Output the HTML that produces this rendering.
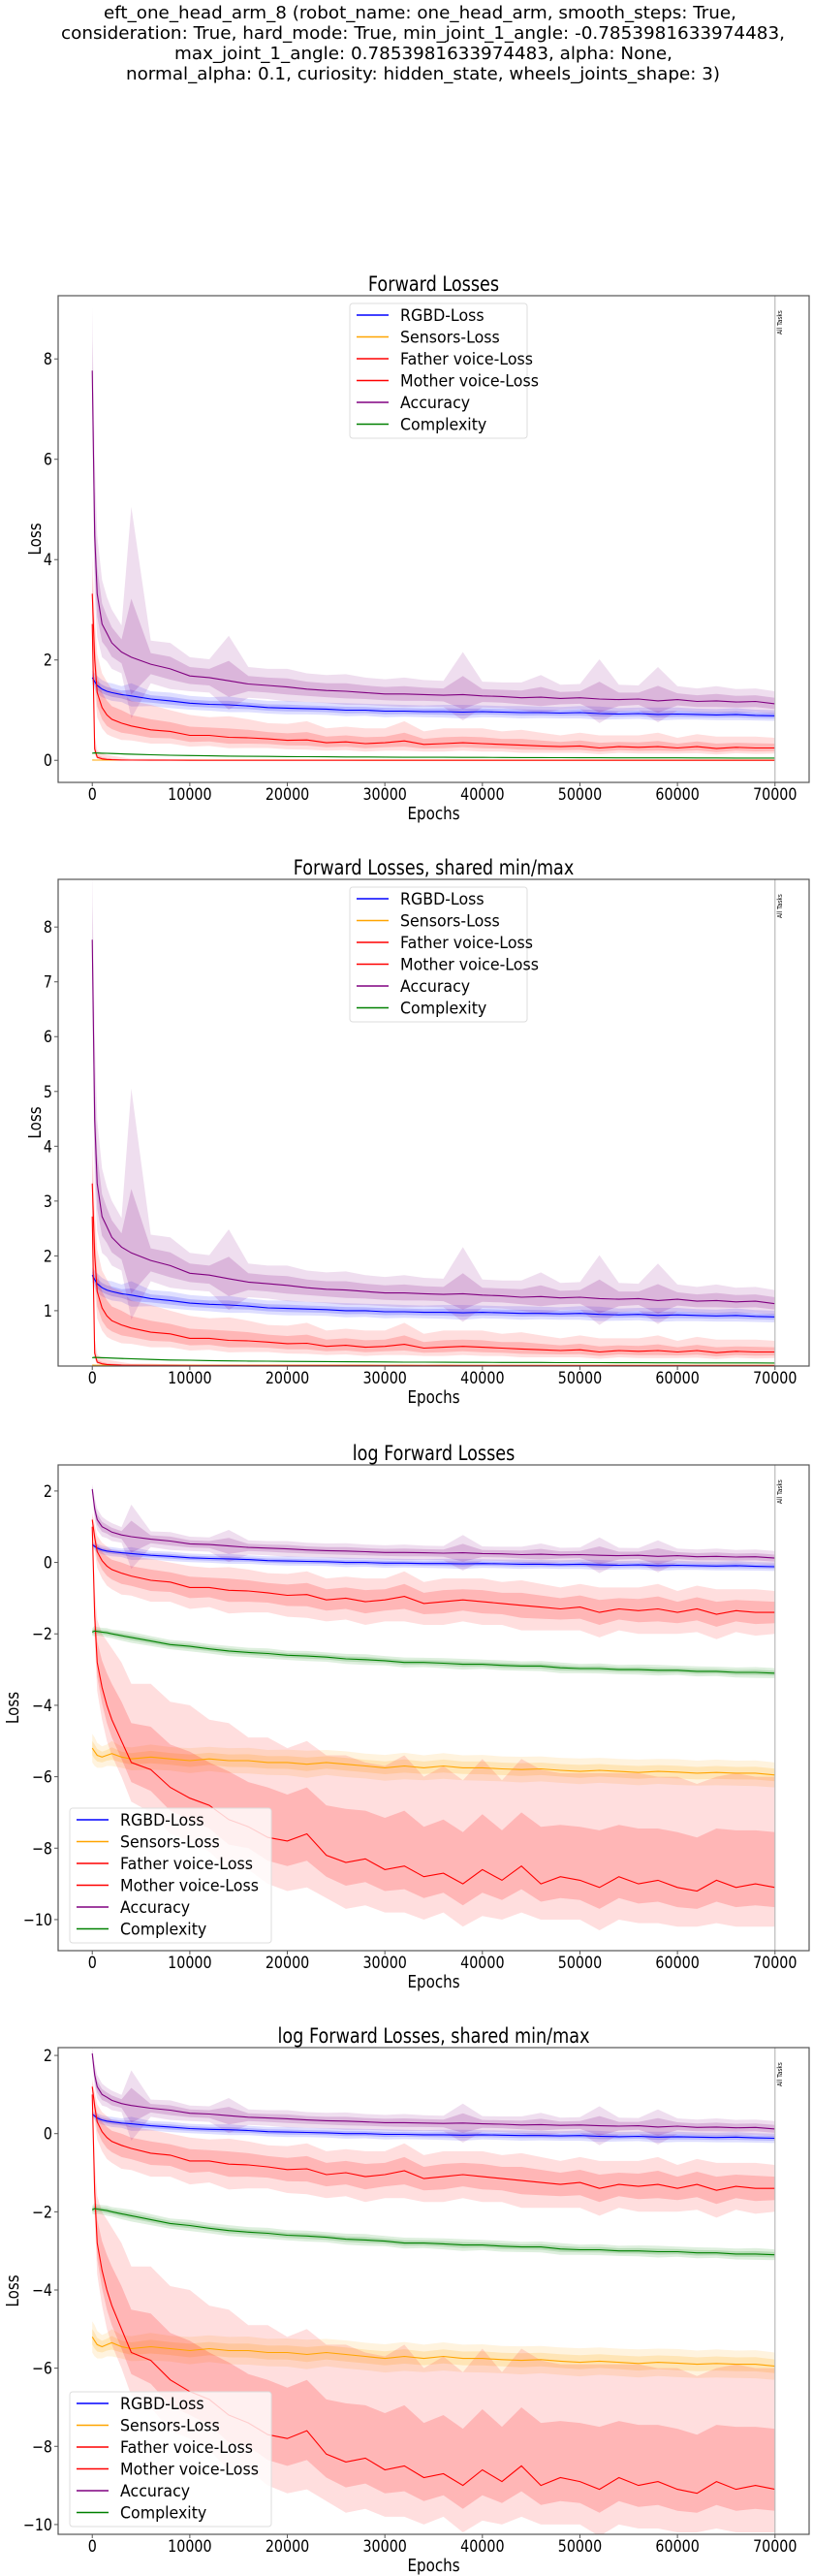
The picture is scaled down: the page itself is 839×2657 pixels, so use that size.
<!DOCTYPE html>
<html><head><meta charset="utf-8">
<style>
html,body{margin:0;padding:0;background:#fff;}
svg{display:block;font-family:"DejaVu Sans","Liberation Sans",sans-serif;}
</style></head>
<body>
<svg id="fig" xmlns="http://www.w3.org/2000/svg" width="839" height="2657" viewBox="0 0 839 2657">
<rect x="0" y="0" width="839" height="2657" fill="#fff"/>
<g font-size="18" fill="#000" text-anchor="start">
<text x="107" y="19" textLength="653" lengthAdjust="spacingAndGlyphs">eft_one_head_arm_8 (robot_name: one_head_arm, smooth_steps: True,</text>
<text x="63" y="40" textLength="747" lengthAdjust="spacingAndGlyphs">consideration: True, hard_mode: True, min_joint_1_angle: -0.7853981633974483,</text>
<text x="180" y="61" textLength="514" lengthAdjust="spacingAndGlyphs">max_joint_1_angle: 0.7853981633974483, alpha: None,</text>
<text x="130" y="82" textLength="613" lengthAdjust="spacingAndGlyphs">normal_alpha: 0.1, curiosity: hidden_state, wheels_joints_shape: 3)</text>
</g>
</svg>
<script>
const epochs=[0,250,500,1000,1500,2000,3000,4000,6000,8000,10000,12000,14000,16000,18000,20000,22000,24000,26000,28000,30000,32000,34000,36000,38000,40000,42000,44000,46000,48000,50000,52000,54000,56000,58000,60000,62000,64000,66000,68000,70000];
const rgbdLog=[0.5,0.45,0.4,0.35,0.32,0.3,0.27,0.25,0.2,0.17,0.13,0.11,0.1,0.08,0.05,0.04,0.03,0.02,0.0,0.0,-0.02,-0.02,-0.03,-0.03,-0.04,-0.03,-0.04,-0.05,-0.05,-0.06,-0.05,-0.07,-0.08,-0.07,-0.09,-0.08,-0.09,-0.1,-0.09,-0.11,-0.12];
const sensorsLog=[-5.2,-5.3,-5.4,-5.45,-5.4,-5.35,-5.45,-5.5,-5.45,-5.5,-5.55,-5.5,-5.55,-5.55,-5.6,-5.6,-5.65,-5.6,-5.65,-5.7,-5.75,-5.7,-5.75,-5.7,-5.75,-5.75,-5.78,-5.8,-5.78,-5.82,-5.85,-5.82,-5.85,-5.88,-5.85,-5.87,-5.9,-5.88,-5.9,-5.9,-5.95];
const fatherLog=[1.2,0.7,0.3,0.05,-0.1,-0.2,-0.3,-0.38,-0.5,-0.55,-0.7,-0.7,-0.78,-0.8,-0.85,-0.92,-0.9,-1.05,-1.0,-1.1,-1.05,-0.95,-1.15,-1.1,-1.05,-1.1,-1.15,-1.2,-1.25,-1.3,-1.25,-1.4,-1.3,-1.35,-1.3,-1.4,-1.3,-1.45,-1.35,-1.4,-1.4];
const motherLog=[1.0,-1.5,-2.8,-3.5,-4.0,-4.4,-5.0,-5.6,-5.8,-6.3,-6.6,-6.8,-7.2,-7.4,-7.7,-7.8,-7.6,-8.2,-8.4,-8.3,-8.6,-8.5,-8.8,-8.7,-9.0,-8.6,-8.9,-8.5,-9.0,-8.8,-8.9,-9.1,-8.8,-9.0,-8.9,-9.1,-9.2,-8.9,-9.1,-9.0,-9.1];
const accuracyLog=[2.05,1.5,1.2,1.0,0.93,0.85,0.77,0.72,0.65,0.6,0.52,0.5,0.46,0.42,0.4,0.38,0.35,0.33,0.32,0.3,0.28,0.28,0.27,0.26,0.27,0.25,0.24,0.22,0.23,0.21,0.22,0.2,0.19,0.2,0.17,0.19,0.16,0.17,0.15,0.16,0.12];
const complexityLog=[-1.95,-1.92,-1.93,-1.95,-1.97,-2.0,-2.05,-2.1,-2.2,-2.3,-2.35,-2.42,-2.48,-2.52,-2.55,-2.6,-2.62,-2.65,-2.7,-2.72,-2.75,-2.8,-2.8,-2.82,-2.85,-2.85,-2.88,-2.9,-2.9,-2.95,-2.97,-2.97,-3.0,-3.0,-3.02,-3.02,-3.05,-3.05,-3.08,-3.08,-3.1];
const rgbdBand=[0.08,0.1,0.12,0.12,0.12,0.13,0.12,0.18,0.12,0.13,0.12,0.12,0.14,0.12,0.12,0.13,0.12,0.12,0.13,0.12,0.13,0.12,0.12,0.13,0.14,0.12,0.12,0.13,0.12,0.12,0.13,0.14,0.12,0.12,0.14,0.13,0.12,0.12,0.13,0.12,0.12];
const sensorsBand=[0.4,0.4,0.35,0.3,0.3,0.35,0.3,0.32,0.35,0.33,0.35,0.34,0.35,0.36,0.35,0.36,0.38,0.35,0.36,0.35,0.36,0.37,0.35,0.36,0.35,0.36,0.35,0.36,0.35,0.35,0.36,0.35,0.35,0.36,0.35,0.36,0.35,0.36,0.35,0.36,0.35];
const fatherBand=[0.2,0.35,0.45,0.5,0.55,0.55,0.6,0.55,0.6,0.55,0.6,0.55,0.65,0.6,0.55,0.6,0.65,0.6,0.6,0.65,0.6,0.7,0.6,0.65,0.6,0.65,0.6,0.7,0.65,0.6,0.65,0.7,0.6,0.65,0.7,0.6,0.65,0.7,0.6,0.65,0.6];
const motherHi=[0.2,0.8,1.2,1.5,1.8,2.0,2.2,2.2,2.4,2.4,2.6,2.4,2.7,2.5,2.8,2.6,2.6,2.8,3.0,2.7,2.9,3.1,2.8,3.0,2.9,3.1,2.8,3.0,3.2,2.9,3.0,3.2,2.9,3.1,2.9,3.1,3.0,2.9,3.2,3.0,3.1];
const motherLo=[0.2,0.6,0.8,0.9,1.0,1.0,1.0,1.1,1.2,1.3,1.2,1.3,1.4,1.2,1.3,1.4,1.5,1.2,1.3,1.3,1.2,1.3,1.2,1.1,1.2,1.3,1.1,1.3,1.0,1.2,1.1,1.2,1.2,1.1,1.2,1.1,1.0,1.2,1.1,1.2,1.1];
const accuracyBand=[0.15,0.3,0.3,0.28,0.25,0.25,0.22,0.9,0.22,0.25,0.2,0.2,0.45,0.2,0.2,0.22,0.2,0.2,0.22,0.2,0.2,0.22,0.2,0.2,0.5,0.2,0.2,0.22,0.3,0.2,0.2,0.5,0.22,0.2,0.45,0.2,0.2,0.22,0.2,0.2,0.2];
const complexityBand=[0.1,0.15,0.12,0.12,0.13,0.12,0.14,0.15,0.14,0.13,0.14,0.13,0.14,0.13,0.14,0.13,0.14,0.13,0.14,0.15,0.13,0.14,0.13,0.14,0.15,0.13,0.14,0.13,0.14,0.15,0.13,0.14,0.13,0.14,0.15,0.13,0.14,0.13,0.14,0.15,0.14];
const seriesLabels=["RGBD-Loss","Sensors-Loss","Father voice-Loss","Mother voice-Loss","Accuracy","Complexity"];
const xTicks=[0,10000,20000,30000,40000,50000,60000,70000];
const yTicksLinear=[0,2,4,6,8];
const yTicksShared=[1,2,3,4,5,6,7,8];
const yTicksLog=[-10,-8,-6,-4,-2,0,2];

const NS="http://www.w3.org/2000/svg";
const svg=document.getElementById('fig');
const series=[
 {mean:rgbdLog,lo:rgbdBand,hi:rgbdBand,color:"#0000ff",fill:"0,0,255"},
 {mean:sensorsLog,lo:sensorsBand,hi:sensorsBand,color:"#ffa500",fill:"255,165,0"},
 {mean:fatherLog,lo:fatherBand,hi:fatherBand,color:"#ff0000",fill:"255,0,0"},
 {mean:motherLog,lo:motherLo,hi:motherHi,color:"#ff0000",fill:"255,0,0"},
 {mean:accuracyLog,lo:accuracyBand,hi:accuracyBand,color:"#800080",fill:"128,0,128"},
 {mean:complexityLog,lo:complexityBand,hi:complexityBand,color:"#008000",fill:"0,128,0"}
];
const panels=[
 {title:"Forward Losses",top:305,bottom:807,ymin:-0.44,ymax:9.26,log:false,ticks:yTicksLinear,leg:"top",ylx:36},
 {title:"Forward Losses, shared min/max",top:907,bottom:1409,ymin:-0.01,ymax:8.87,log:false,ticks:yTicksShared,leg:"top",ylx:36},
 {title:"log Forward Losses",top:1511,bottom:2012,ymin:-10.87,ymax:2.73,log:true,ticks:yTicksLog,leg:"bottom",ylx:13},
 {title:"log Forward Losses, shared min/max",top:2112,bottom:2614,ymin:-10.25,ymax:2.2,log:true,ticks:yTicksLog,leg:"bottom",ylx:13}
];
const AX_L=60, AX_R=835, XMIN=-3500, XMAX=73500;
function X(e){return AX_L+(e-XMIN)/(XMAX-XMIN)*(AX_R-AX_L);}

function txt(parent,x,y,s,size,anchor,name,rot,k){
 const t=document.createElementNS(NS,'text');
 t.setAttribute('transform','translate('+x+','+y+')'+(rot?' rotate(-90)':'')+' scale('+(k||0.84)+',1)');
 t.setAttribute('font-size',size);
 t.setAttribute('text-anchor',anchor);
 t.setAttribute('fill','#000');
 t.textContent=s;
 
 
 parent.appendChild(t);
 return t;
}
function fmt(v){return v<0?'\u2212'+Math.abs(v):String(v);}

panels.forEach((p,pi)=>{
 const g=document.createElementNS(NS,'g');
 
 
 svg.appendChild(g);
 const Y=v=>p.top+(p.ymax-v)/(p.ymax-p.ymin)*(p.bottom-p.top);
 const val=v=>p.log?v:Math.exp(v);
 const cp=document.createElementNS(NS,'clipPath');
 cp.setAttribute('id','clip'+pi);
 const cr=document.createElementNS(NS,'rect');
 cr.setAttribute('x',AX_L);cr.setAttribute('y',p.top);cr.setAttribute('width',AX_R-AX_L);cr.setAttribute('height',p.bottom-p.top);
 cp.appendChild(cr);g.appendChild(cp);
 txt(g,(AX_L+AX_R)/2,p.top-5,p.title,21,'middle','plot-title');
 const data=document.createElementNS(NS,'g');
 data.setAttribute('clip-path','url(#clip'+pi+')');
 
 
 g.appendChild(data);
 series.forEach((s,si)=>{
  [1,0.5].forEach((f,li)=>{
   let up='',dn='';
   epochs.forEach((e,i)=>{up+=(i?'L':'M')+X(e).toFixed(1)+','+Y(val(s.mean[i]+s.hi[i]*f)).toFixed(1);});
   for(let i=epochs.length-1;i>=0;i--){dn+='L'+X(epochs[i]).toFixed(1)+','+Y(val(s.mean[i]-s.lo[i]*f)).toFixed(1);}
   const b=document.createElementNS(NS,'path');
   b.setAttribute('d',up+dn+'Z');
   b.setAttribute('fill','rgba('+s.fill+','+(li?0.18:0.13)+')');
   
   
   data.appendChild(b);
  });
 });
 series.forEach((s,si)=>{
  let d='';
  epochs.forEach((e,i)=>{d+=(i?'L':'M')+X(e).toFixed(1)+','+Y(val(s.mean[i])).toFixed(1);});
  const l=document.createElementNS(NS,'path');
  l.setAttribute('d',d);l.setAttribute('fill','none');l.setAttribute('stroke',s.color);l.setAttribute('stroke-width','1.1');
  
  
  data.appendChild(l);
 });
 const vl=document.createElementNS(NS,'line');
 vl.setAttribute('x1',X(70000));vl.setAttribute('x2',X(70000));vl.setAttribute('y1',p.top);vl.setAttribute('y2',p.bottom);
 vl.setAttribute('stroke','#bbb');vl.setAttribute('stroke-width','1.2');
 
 
 g.appendChild(vl);
 txt(g,X(70000)+7,p.top+40,'All Tasks',7,'start','all-tasks-label',true);
 const fr=document.createElementNS(NS,'rect');
 fr.setAttribute('x',AX_L);fr.setAttribute('y',p.top);fr.setAttribute('width',AX_R-AX_L);fr.setAttribute('height',p.bottom-p.top);
 fr.setAttribute('fill','none');fr.setAttribute('stroke','#555');fr.setAttribute('stroke-width','1.2');
 
 
 g.appendChild(fr);
 xTicks.forEach(t=>{
  const tk=document.createElementNS(NS,'line');
  tk.setAttribute('x1',X(t));tk.setAttribute('x2',X(t));tk.setAttribute('y1',p.bottom);tk.setAttribute('y2',p.bottom+4);
  tk.setAttribute('stroke','#555');
  
  
  g.appendChild(tk);
  txt(g,X(t),p.bottom+18,String(t),17,'middle','x-tick-label');
 });
 p.ticks.forEach(t=>{
  const y=Y(t);
  const tk=document.createElementNS(NS,'line');
  tk.setAttribute('x1',AX_L-4);tk.setAttribute('x2',AX_L);tk.setAttribute('y1',y);tk.setAttribute('y2',y);
  tk.setAttribute('stroke','#555');
  
  
  g.appendChild(tk);
  txt(g,AX_L-6,y+6,fmt(t),17,'end','y-tick-label');
 });
 txt(g,(AX_L+AX_R)/2,p.bottom+38,'Epochs',18,'middle','x-axis-title');
 txt(g,p.ylx+6,(p.top+p.bottom)/2,'Loss',18,'middle','y-axis-title',true);
 const lg=document.createElementNS(NS,'g');
 
 
 g.appendChild(lg);
 let lx,ly,lw,lh=139;
 if(p.leg==='top'){lx=361;lw=183;ly=p.top+8;}else{lx=72;lw=208;ly=p.bottom-147;}
 const lr=document.createElementNS(NS,'rect');
 lr.setAttribute('x',lx);lr.setAttribute('y',ly);lr.setAttribute('width',lw);lr.setAttribute('height',lh);lr.setAttribute('rx',3);
 lr.setAttribute('fill','rgba(255,255,255,0.8)');lr.setAttribute('stroke','#ddd');
 
 
 lg.appendChild(lr);
 seriesLabels.forEach((name,i)=>{
  const ry=ly+12+i*22.5;
  const sl=document.createElementNS(NS,'line');
  sl.setAttribute('x1',lx+7);sl.setAttribute('x2',lx+40);sl.setAttribute('y1',ry);sl.setAttribute('y2',ry);
  sl.setAttribute('stroke',series[i].color);sl.setAttribute('stroke-width','1.5');
  
  
  lg.appendChild(sl);
  txt(lg,lx+52,ry+6,name,17,'start','legend-entry',false,0.93);
 });
});
</script>
</body></html>
